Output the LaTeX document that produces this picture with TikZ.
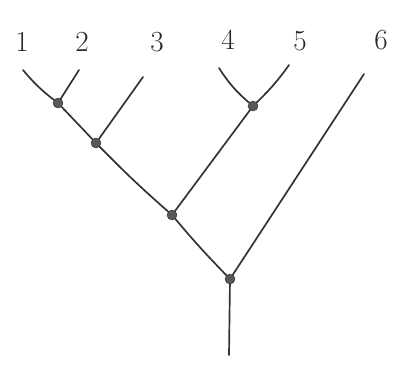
\documentclass[tikz,border=0pt]{standalone}
\usetikzlibrary{positioning}
\tikzset{branch/.style={line width=1.2pt,draw=black!80,line cap=round},
  split/.style={circle,fill=black!65,draw=black!80,inner sep=0pt,minimum size=7pt},
  leaf/.style={font=\huge,text=black!85}}
\begin{document}
\begin{tikzpicture}[x=0.025cm,y=-0.025cm]
\useasboundingbox (0,0) rectangle (398,371);
% leaf labels
\foreach \x/\y/\name in {22/42/1,82/42/2,157/42/3,228/40/4,300/41/5,381/40/6}{\node[leaf] (lab\name) at (\x,\y){\name};}
% leaf tips
\foreach \x/\y/\name in {23/70/1,79/70/2,143/77/3,219/68/4,289/65/5,364/74/6}{\coordinate (t\name) at (\x,\y);}
\coordinate (base) at (229,355);
% internal splits
\node[split] (s12) at (58,103){};
\node[split] (s123) at (96,143){};
\node[split] (s45) at (253,106){};
\node[split] (s1234) at (172,215){};
\node[split] (sroot) at (230,279){};
% branches
\draw[branch] (t1) to[bend right=6] (s12);
\draw[branch] (t2) -- (s12);
\draw[branch] (s12) -- (s123);
\draw[branch] (t3) -- (s123);
\draw[branch] (s123) to[bend right=2] (s1234);
\draw[branch] (t4) to[bend right=8] (s45);
\draw[branch] (t5) to[bend left=5] (s45);
\draw[branch] (s45) -- (s1234);
\draw[branch] (s1234) to[bend right=2] (sroot);
\draw[branch] (t6) -- (sroot);
\draw[branch] (sroot) -- (base);
\end{tikzpicture}
\end{document}
